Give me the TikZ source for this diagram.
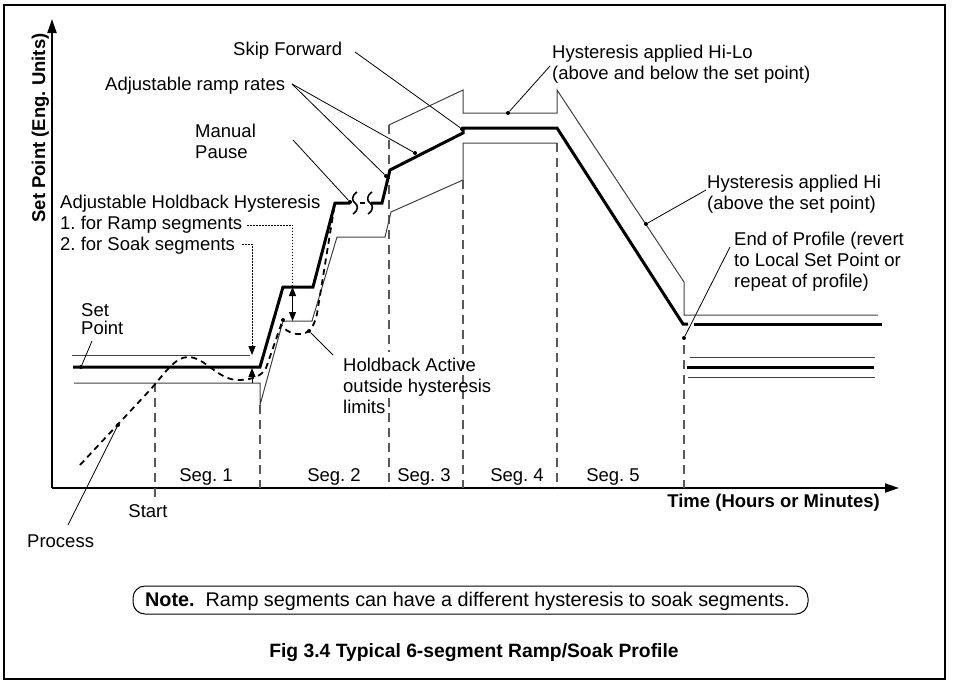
\documentclass[tikz,border=0pt]{standalone}
\usepackage{fontspec}
\setmainfont{Liberation Sans}
\usetikzlibrary{arrows.meta}
\frenchspacing
\begin{document}
\begin{tikzpicture}[x=1pt,y=-1pt,
  lbl/.style={inner sep=0pt, font=\fontsize{18.5}{21}\selectfont, align=left},
  bold/.style={inner sep=0pt, font=\fontsize{18.5}{21}\selectfont\bfseries},
  frame/.style={line width=1.5pt},
  axis/.style={line width=2pt, -{Triangle[length=14pt,width=9pt]}},
  profile/.style={line width=3pt},
  band/.style={line width=1pt, black!75},
  segline/.style={line width=1.1pt, black!65, dash pattern=on 9pt off 6pt},
  proc/.style={line width=1.8pt, dash pattern=on 6pt off 4.5pt},
  lead/.style={line width=0.8pt},
  dim/.style={line width=0.9pt, dash pattern=on 1.5pt off 1.5pt},
  tip/.style={-{Triangle[length=9pt,width=7pt]}},
  both/.style={{Triangle[length=9pt,width=7pt]}-{Triangle[length=9pt,width=7pt]}},
  pt/.style={circle, fill, inner sep=0pt, minimum size=4pt},
  squig/.style={line width=1.6pt},
]
\useasboundingbox (0,0) rectangle (953,683);
\draw[frame] (4,5) rectangle (945,679);

% axes
\coordinate (O) at (52,488);
\coordinate (ytop) at (52,19);
\coordinate (xend) at (899,488);
\draw[axis] (O) -- (ytop);
\draw[axis] (O) -- (xend);
\node[bold, rotate=90, anchor=base] (ylab) at (45,128) {Set Point (Eng. Units)};
\node[bold, anchor=base east] (xlab) at (880,507) {Time (Hours or Minutes)};

% segment boundaries (the one at 389 is broken by the label text)
\foreach \x/\y/\e in {155/383/500, 260/405/488, 463/180/488, 557/143/488, 684/345/488}
  \draw[segline] (\x,\y) -- (\x,\e);
\draw[segline] (389,125) -- (389,352);
\draw[segline] (389,398) -- (389,488);

% hysteresis bands
\draw[band] (72,355) -- (250,355);
\draw[band] (74,383) -- (260,383) -- (260,405) -- (283,321) -- (312,321) -- (337,237)
  -- (385,237) -- (391,212) -- (463,180) -- (463,143) -- (557,143);
\draw[band] (389,125) -- (463,90) -- (463,113) -- (557,113) -- (557,90) -- (684,282)
  -- (684,315) -- (878,315);

% local set point after the end of the profile
\draw[band] (690,357) -- (875,357);
\draw[profile] (687,367) -- (874,367);
\draw[band] (688,377) -- (875,377);

% process value
\draw[proc] (80,465) -- (150,390) .. controls (165,373) and (175,357) .. (188,357)
  .. controls (205,357) and (218,380) .. (238,380)
  .. controls (252,380) and (262,376) .. (266,368) -- (281,325)
  .. controls (288,334) and (300,337) .. (309,331)
  .. controls (313,327) and (315,322) .. (317,314) -- (334,209);

% set point profile
\draw[profile] (73,367) -- (260,367) -- (283,287) -- (313,287) -- (335,203) -- (350,203);
\draw[profile] (371,203) -- (382,203) -- (390,170) -- (463,133) -- (463,128)
  -- (557,128) -- (683,324) -- (688,324);
\draw[profile] (694,324) -- (882,324);

% manual pause break
\draw[squig] (357,192) .. controls (351,196) and (352,201) .. (355,203)
  .. controls (358,205) and (359,210) .. (353,214);
\draw[squig] (372,192) .. controls (366,196) and (367,201) .. (370,203)
  .. controls (373,205) and (374,210) .. (368,214);
\draw[line width=2.5pt] (360,203) -- (365,203);

% labels
\node[lbl, anchor=base west] (skip) at (233,55) {Skip Forward};
\node[lbl, anchor=base west] (ramprates) at (105,90) {Adjustable ramp rates};
\node[lbl, anchor=north west] (pause) at (195,124) {Manual\\Pause};
\node[lbl, anchor=north west] (holdhyst) at (60,195)
  {Adjustable Holdback Hysteresis\\1. for Ramp segments\\2. for Soak segments};
\node[lbl, anchor=north west] (setpt) at (81,303.4) {Set\\[-2.7pt]Point};
\node[lbl, anchor=north west] (hbactive) at (343,357.7)
  {Holdback Active\\outside hysteresis\\limits};
\node[lbl, anchor=north west] (hilo) at (552,45)
  {Hysteresis applied Hi-Lo\\(above and below the set point)};
\node[lbl, anchor=north west] (hi) at (707,175)
  {Hysteresis applied Hi\\(above the set point)};
\node[lbl, anchor=north west] (endp) at (734,231.7)
  {End of Profile (revert\\to Local Set Point or\\repeat of profile)};
\node[lbl, anchor=base] (s1) at (206,481) {Seg. 1};
\node[lbl, anchor=base] (s2) at (334,481) {Seg. 2};
\node[lbl, anchor=base] (s3) at (424,481) {Seg. 3};
\node[lbl, anchor=base] (s4) at (517,481) {Seg. 4};
\node[lbl, anchor=base] (s5) at (613,481) {Seg. 5};
\node[lbl, anchor=base] (start) at (148,517) {Start};
\node[lbl, anchor=base west] (proc) at (27,547) {Process};

% leader points
\node[pt] (dSkip) at (462,129) {};
\node[pt] (dRampA) at (386,176) {};
\node[pt] (dRampB) at (415,153) {};
\node[pt] (dPause) at (350,202) {};
\node[pt] (dHiLo) at (508,113) {};
\node[pt] (dHi) at (646,224) {};
\node[pt] (dEnd) at (684,338) {};
\node[pt] (dSet) at (81,367) {};
\node[pt] (dHold) at (309,331) {};
\node[pt] (dLow) at (283,320) {};
\node[pt] (dProc) at (118,425) {};

\coordinate (lSkip) at (355,52);
\coordinate (lRamp) at (292,84);
\coordinate (lPause) at (293,140);
\coordinate (lHiLo) at (550,66);
\coordinate (lHi) at (706,190);
\coordinate (lEnd) at (730,247);
\coordinate (lSet) at (92,341);
\coordinate (lHold) at (333,355);
\coordinate (lProc) at (68,525);

\draw[lead] (lSkip) -- (dSkip);
\draw[lead] (lRamp) -- (dRampA);
\draw[lead] (lRamp) -- (dRampB);
\draw[lead] (lPause) -- (dPause);
\draw[lead] (lHiLo) -- (dHiLo);
\draw[lead] (lHi) -- (dHi);
\draw[lead] (lEnd) -- (dEnd);
\draw[lead] (lSet) -- (dSet);
\draw[lead] (lHold) -- (dHold);
\draw[lead] (lProc) -- (dProc);

% holdback hysteresis dimensions
\coordinate (rampStart) at (247,225);
\coordinate (rampBend) at (292.5,225);
\coordinate (rampTop) at (292.5,287);
\coordinate (rampBot) at (292.5,321);
\draw[dim] (rampStart) -- (rampBend) -- (rampTop);
\draw[line width=0.9pt, both] (rampTop) -- (rampBot);
\coordinate (soakStart) at (242,244);
\coordinate (soakBend) at (252,244);
\coordinate (soakTop) at (252,355);
\coordinate (soakSp) at (252,368);
\coordinate (soakLow) at (252,383);
\draw[dim, tip] (soakStart) -- (soakBend) -- (soakTop);
\draw[line width=0.9pt, tip] (soakLow) -- (soakSp);

% note and caption
\draw[line width=1pt, rounded corners=12pt] (133,586) rectangle (808,614);
\node[lbl, anchor=base west, font=\fontsize{19.8}{22}\selectfont] (note) at (145,606)
  {\textbf{Note.}\ \ Ramp segments can have a different hysteresis to soak segments.};
\node[bold, anchor=base, font=\fontsize{19.3}{22}\selectfont\bfseries] (cap) at (474,657)
  {Fig 3.4 Typical 6-segment Ramp/Soak Profile};
\end{tikzpicture}
\end{document}
